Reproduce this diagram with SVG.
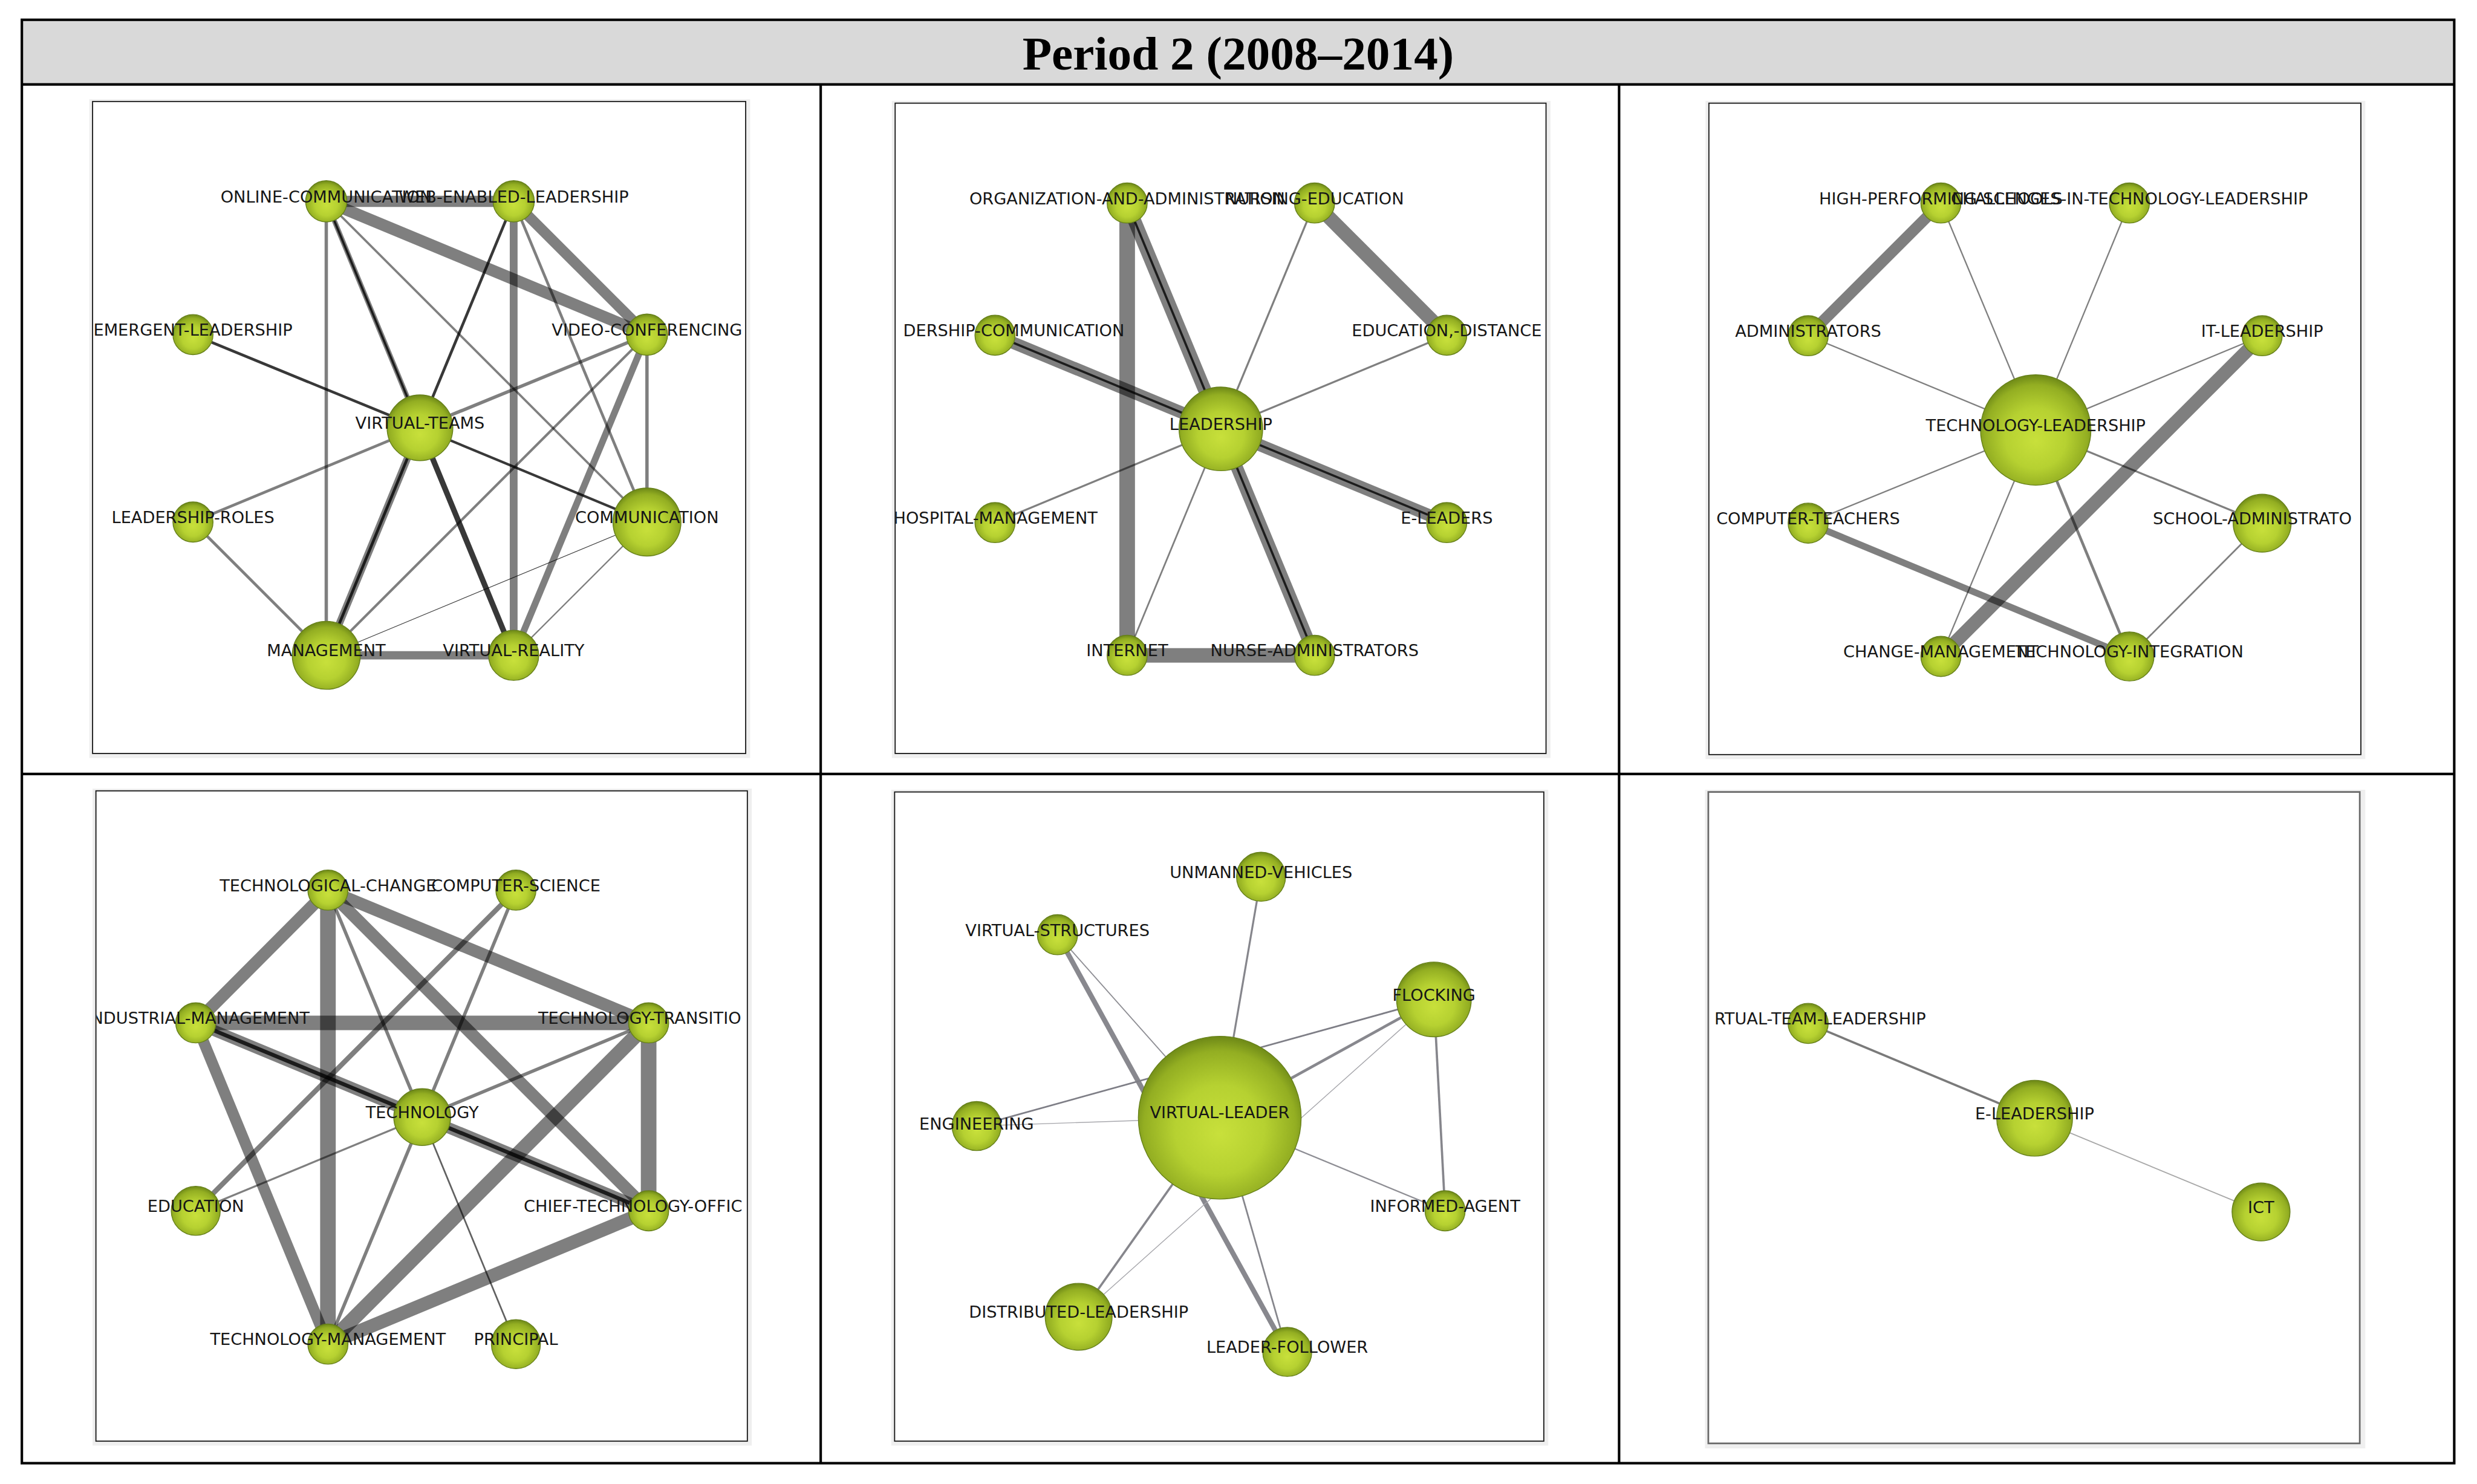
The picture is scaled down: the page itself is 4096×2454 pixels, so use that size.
<svg xmlns="http://www.w3.org/2000/svg" width="4096" height="2454" viewBox="0 0 4096 2454">
<defs>
<style>
.e{stroke:#000;stroke-opacity:.5;fill:none}
.d{stroke:#000;stroke-opacity:.78;fill:none}
.f{stroke:#000;stroke-opacity:.62;fill:none}
.n{fill:url(#ball);stroke:#66801a;stroke-width:1.5}
.t{font-family:"DejaVu Sans",Verdana,sans-serif;font-size:29.5px;fill:#161616;text-anchor:middle}
.ts{text-anchor:start}
.te{text-anchor:end}
.tb{stroke:#000;stroke-width:4.5;fill:none}
.shade{fill:#efefef}
.fr{fill:#fff;stroke:#1a1a1a;stroke-width:2}
</style>
<radialGradient id="ball" cx="0.5" cy="0.55" r="0.55" fx="0.5" fy="0.6">
<stop offset="0" stop-color="#c8e03b"/>
<stop offset="0.5" stop-color="#b6d131"/>
<stop offset="0.85" stop-color="#93ae22"/>
<stop offset="1" stop-color="#6d8817"/>
</radialGradient>
<clipPath id="c1"><rect x="167" y="183" width="1169" height="1167"/></clipPath>
<clipPath id="c2"><rect x="1606" y="186" width="1165" height="1164"/></clipPath>
<clipPath id="c3"><rect x="3065" y="186" width="1167" height="1166"/></clipPath>
<clipPath id="c4"><rect x="173" y="1419" width="1166" height="1164"/></clipPath>
<clipPath id="c5"><rect x="1605" y="1421" width="1162" height="1162"/></clipPath>
<clipPath id="c6"><rect x="3064" y="1421" width="1166" height="1166"/></clipPath>
</defs>
<rect x="0" y="0" width="4096" height="2454" fill="#fff"/>
<g transform="scale(0.92227)">
<g id="table">
<rect x="39" y="35.5" width="4361" height="116" fill="#d9d9d9"/>
<rect class="tb" x="39.2" y="35.5" width="4361.2" height="2588"/>
<line class="tb" x1="39" y1="151.4" x2="4400" y2="151.4"/>
<line class="tb" x1="39" y1="1387.7" x2="4400" y2="1387.7"/>
<line class="tb" x1="1471.5" y1="151.4" x2="1471.5" y2="2623.5"/>
<line class="tb" x1="2903" y1="151.4" x2="2903" y2="2623.5"/>
<text x="2220" y="125" font-family="'Liberation Serif','Times New Roman',serif" font-weight="bold" font-size="86" text-anchor="middle" fill="#000">Period 2 (2008–2014)</text>
</g>
<g id="frames">
<rect class="shade" x="160" y="178" width="1185" height="1181"/>
<rect class="fr" x="166" y="182" width="1171" height="1169"/>
<rect class="shade" x="1599" y="181" width="1181" height="1178"/>
<rect class="fr" x="1605" y="185" width="1167" height="1166"/>
<rect class="shade" x="3058" y="181" width="1183" height="1180"/>
<rect class="fr" x="3064" y="185" width="1169" height="1168"/>
<rect class="shade" x="166" y="1414" width="1182" height="1178"/>
<rect class="fr" x="172" y="1418" width="1168" height="1166"/>
<rect class="shade" x="1598" y="1416" width="1178" height="1176"/>
<rect class="fr" x="1604" y="1420" width="1164" height="1164"/>
<rect class="shade" x="3057" y="1416" width="1184" height="1181"/>
<rect x="3063" y="1420" width="1168" height="1168" fill="#fff" stroke="#6a6a6a" stroke-width="3"/>
</g>
<g id="connectors">
<g id="p1-edges">
<line class="e" x1="585" y1="361" x2="921" y2="361" stroke-width="20"/>
<line class="e" x1="585" y1="361" x2="1160" y2="600" stroke-width="21"/>
<line class="e" x1="921" y1="361" x2="1160" y2="600" stroke-width="19"/>
<line class="e" x1="585" y1="361" x2="585" y2="1175" stroke-width="6"/>
<line class="e" x1="585" y1="361" x2="753" y2="767" stroke-width="9"/>
<line class="d" x1="585" y1="361" x2="753" y2="767" stroke-width="4"/>
<line class="e" x1="585" y1="361" x2="1160" y2="936" stroke-width="4"/>
<line class="d" x1="921" y1="361" x2="753" y2="767" stroke-width="5"/>
<line class="e" x1="921" y1="361" x2="921" y2="1175" stroke-width="14"/>
<line class="e" x1="921" y1="361" x2="1160" y2="936" stroke-width="5"/>
<line class="d" x1="346" y1="600" x2="753" y2="767" stroke-width="5"/>
<line class="e" x1="1160" y1="600" x2="753" y2="767" stroke-width="6"/>
<line class="e" x1="1160" y1="600" x2="585" y2="1175" stroke-width="4.5"/>
<line class="e" x1="1160" y1="600" x2="921" y2="1175" stroke-width="12"/>
<line class="e" x1="1160" y1="600" x2="1160" y2="936" stroke-width="6"/>
<line class="d" x1="753" y1="767" x2="1160" y2="936" stroke-width="4.5"/>
<line class="e" x1="753" y1="767" x2="346" y2="936" stroke-width="5"/>
<line class="e" x1="753" y1="767" x2="585" y2="1175" stroke-width="13"/>
<line class="d" x1="753" y1="767" x2="585" y2="1175" stroke-width="5"/>
<line class="d" x1="753" y1="767" x2="921" y2="1175" stroke-width="10"/>
<line class="e" x1="346" y1="936" x2="585" y2="1175" stroke-width="5"/>
<line class="e" x1="585" y1="1175" x2="921" y2="1175" stroke-width="15"/>
<line class="d" x1="585" y1="1175" x2="1160" y2="936" stroke-width="1.2"/>
<line class="e" x1="921" y1="1175" x2="1160" y2="936" stroke-width="2.5"/>
</g>
<g id="p2-edges">
<line class="e" x1="2021" y1="364" x2="2189" y2="769" stroke-width="24"/>
<line class="d" x1="2021" y1="364" x2="2189" y2="769" stroke-width="4"/>
<line class="e" x1="2021" y1="364" x2="2021" y2="1175" stroke-width="28"/>
<line class="e" x1="2357" y1="364" x2="2594" y2="601" stroke-width="25"/>
<line class="e" x1="2357" y1="364" x2="2189" y2="769" stroke-width="3.5"/>
<line class="e" x1="1784" y1="601" x2="2189" y2="769" stroke-width="22"/>
<line class="d" x1="1784" y1="601" x2="2189" y2="769" stroke-width="4"/>
<line class="e" x1="2594" y1="601" x2="2189" y2="769" stroke-width="3.5"/>
<line class="e" x1="1784" y1="937" x2="2189" y2="769" stroke-width="3.5"/>
<line class="e" x1="2189" y1="769" x2="2594" y2="937" stroke-width="22"/>
<line class="d" x1="2189" y1="769" x2="2594" y2="937" stroke-width="4"/>
<line class="e" x1="2189" y1="769" x2="2357" y2="1175" stroke-width="22"/>
<line class="d" x1="2189" y1="769" x2="2357" y2="1175" stroke-width="4"/>
<line class="e" x1="2189" y1="769" x2="2021" y2="1175" stroke-width="3"/>
<line class="e" x1="2021" y1="1175" x2="2357" y2="1175" stroke-width="26"/>
</g>
<g id="p3-edges">
<line class="e" x1="3480" y1="364" x2="3242" y2="602" stroke-width="20"/>
<line class="e" x1="3480" y1="364" x2="3650" y2="771" stroke-width="2.5"/>
<line class="e" x1="3818" y1="364" x2="3650" y2="771" stroke-width="2.5"/>
<line class="e" x1="3242" y1="602" x2="3650" y2="771" stroke-width="2.5"/>
<line class="e" x1="4056" y1="602" x2="3650" y2="771" stroke-width="2.5"/>
<line class="e" x1="4056" y1="602" x2="3480" y2="1177" stroke-width="24"/>
<line class="e" x1="3242" y1="938" x2="3650" y2="771" stroke-width="2.5"/>
<line class="e" x1="3242" y1="938" x2="3818" y2="1177" stroke-width="12"/>
<line class="e" x1="3650" y1="771" x2="4056" y2="938" stroke-width="3.5"/>
<line class="e" x1="3650" y1="771" x2="3480" y2="1177" stroke-width="2.5"/>
<line class="e" x1="3650" y1="771" x2="3818" y2="1177" stroke-width="5"/>
<line class="e" x1="4056" y1="938" x2="3818" y2="1177" stroke-width="3"/>
</g>
<g id="p4-edges">
<line class="e" x1="588" y1="1596" x2="351" y2="1834" stroke-width="22"/>
<line class="e" x1="588" y1="1596" x2="588" y2="2410" stroke-width="28"/>
<line class="e" x1="588" y1="1596" x2="757" y2="2003" stroke-width="6"/>
<line class="e" x1="588" y1="1596" x2="1163" y2="1834" stroke-width="22"/>
<line class="e" x1="588" y1="1596" x2="1163" y2="2171" stroke-width="22"/>
<line class="e" x1="925" y1="1596" x2="351" y2="2171" stroke-width="9"/>
<line class="e" x1="925" y1="1596" x2="757" y2="2003" stroke-width="6"/>
<line class="e" x1="351" y1="1834" x2="1163" y2="1834" stroke-width="26"/>
<line class="e" x1="351" y1="1834" x2="1163" y2="2171" stroke-width="20"/>
<line class="d" x1="351" y1="1834" x2="1163" y2="2171" stroke-width="7"/>
<line class="e" x1="351" y1="1834" x2="588" y2="2410" stroke-width="20"/>
<line class="e" x1="1163" y1="1834" x2="757" y2="2003" stroke-width="6"/>
<line class="e" x1="1163" y1="1834" x2="588" y2="2410" stroke-width="26"/>
<line class="e" x1="1163" y1="1834" x2="1163" y2="2171" stroke-width="28"/>
<line class="e" x1="757" y1="2003" x2="351" y2="2171" stroke-width="3.5"/>
<line class="e" x1="757" y1="2003" x2="588" y2="2410" stroke-width="6"/>
<line class="f" x1="757" y1="2003" x2="925" y2="2410" stroke-width="3"/>
<line class="e" x1="1163" y1="2171" x2="588" y2="2410" stroke-width="24"/>
</g>
<g id="p5-edges" fill="none">
<line x1="1896" y1="1676" x2="2308" y2="2424" stroke="#88888e" stroke-width="9"/>
<line x1="1896" y1="1676" x2="2187" y2="2004" stroke="#8e8e94" stroke-width="2"/>
<line x1="2261" y1="1572" x2="2187" y2="2004" stroke="#86868c" stroke-width="3.5"/>
<line x1="2571" y1="1792" x2="1751" y2="2019" stroke="#7e7e86" stroke-width="3"/>
<line x1="2571" y1="1792" x2="2187" y2="2004" stroke="#88888e" stroke-width="5"/>
<line x1="2571" y1="1792" x2="1934" y2="2361" stroke="#a5a5aa" stroke-width="1.5"/>
<line x1="2571" y1="1792" x2="2591" y2="2171" stroke="#86868c" stroke-width="4"/>
<line x1="1751" y1="2019" x2="2187" y2="2004" stroke="#a8a8ad" stroke-width="1.5"/>
<line x1="2187" y1="2004" x2="2591" y2="2171" stroke="#8e8e94" stroke-width="2.5"/>
<line x1="2187" y1="2004" x2="1934" y2="2361" stroke="#86868c" stroke-width="4"/>
<line x1="2187" y1="2004" x2="2308" y2="2424" stroke="#86868c" stroke-width="3"/>
</g>
<g id="p6-edges" fill="none">
<line x1="3242" y1="1835" x2="3648" y2="2005" stroke="#7a7a7a" stroke-width="4"/>
<line x1="3648" y1="2005" x2="4054" y2="2173" stroke="#a8a8a8" stroke-width="2"/>
</g>
</g>
<g id="p1-nodes" clip-path="url(#c1)">
<g id="n-online-communication"><circle class="n" cx="585" cy="361" r="37"/><text class="t" x="585" y="363">ONLINE-COMMUNICATION</text></g>
<g id="n-web-enabled-leadership"><circle class="n" cx="921" cy="361" r="37"/><text class="t" x="921" y="363">WEB-ENABLED-LEADERSHIP</text></g>
<g id="n-emergent-leadership"><circle class="n" cx="346" cy="600" r="36"/><text class="t" x="346" y="602">EMERGENT-LEADERSHIP</text></g>
<g id="n-video-conferencing"><circle class="n" cx="1160" cy="600" r="37"/><text class="t" x="1160" y="602">VIDEO-CONFERENCING</text></g>
<g id="n-virtual-teams"><circle class="n" cx="753" cy="767" r="59"/><text class="t" x="753" y="769">VIRTUAL-TEAMS</text></g>
<g id="n-leadership-roles"><circle class="n" cx="346" cy="936" r="36"/><text class="t" x="346" y="938">LEADERSHIP-ROLES</text></g>
<g id="n-communication"><circle class="n" cx="1160" cy="936" r="61"/><text class="t" x="1160" y="938">COMMUNICATION</text></g>
<g id="n-management"><circle class="n" cx="585" cy="1175" r="61"/><text class="t" x="585" y="1177">MANAGEMENT</text></g>
<g id="n-virtual-reality"><circle class="n" cx="921" cy="1175" r="45"/><text class="t" x="921" y="1177">VIRTUAL-REALITY</text></g>
</g>
<g id="p2-nodes" clip-path="url(#c2)">
<g id="n-organization-and-administration"><circle class="n" cx="2021" cy="364" r="36"/><text class="t" x="2021" y="366">ORGANIZATION-AND-ADMINISTRATION</text></g>
<g id="n-nursing-education"><circle class="n" cx="2357" cy="364" r="36"/><text class="t" x="2357" y="366">NURSING-EDUCATION</text></g>
<g id="n-leadership-communication"><circle class="n" cx="1784" cy="601" r="36"/><text class="t te" x="2016" y="603">DERSHIP-COMMUNICATION</text></g>
<g id="n-education-distance"><circle class="n" cx="2594" cy="601" r="36"/><text class="t" x="2594" y="603">EDUCATION,-DISTANCE</text></g>
<g id="n-leadership"><circle class="n" cx="2189" cy="769" r="75"/><text class="t" x="2189" y="771">LEADERSHIP</text></g>
<g id="n-hospital-management"><circle class="n" cx="1784" cy="937" r="36"/><text class="t" x="1785" y="939">HOSPITAL-MANAGEMENT</text></g>
<g id="n-e-leaders"><circle class="n" cx="2594" cy="937" r="36"/><text class="t" x="2594" y="939">E-LEADERS</text></g>
<g id="n-internet"><circle class="n" cx="2021" cy="1175" r="36"/><text class="t" x="2021" y="1177">INTERNET</text></g>
<g id="n-nurse-administrators"><circle class="n" cx="2357" cy="1175" r="36"/><text class="t" x="2357" y="1177">NURSE-ADMINISTRATORS</text></g>
</g>
<g id="p3-nodes" clip-path="url(#c3)">
<g id="n-high-performing-schools"><circle class="n" cx="3480" cy="364" r="36"/><text class="t" x="3480" y="366">HIGH-PERFORMING-SCHOOLS</text></g>
<g id="n-challenges-in-technology-leadership"><circle class="n" cx="3818" cy="364" r="36"/><text class="t" x="3818" y="366">CHALLENGES-IN-TECHNOLOGY-LEADERSHIP</text></g>
<g id="n-administrators"><circle class="n" cx="3242" cy="602" r="36"/><text class="t" x="3242" y="604">ADMINISTRATORS</text></g>
<g id="n-it-leadership"><circle class="n" cx="4056" cy="602" r="36"/><text class="t" x="4056" y="604">IT-LEADERSHIP</text></g>
<g id="n-technology-leadership"><circle class="n" cx="3650" cy="771" r="99"/><text class="t" x="3650" y="773">TECHNOLOGY-LEADERSHIP</text></g>
<g id="n-computer-teachers"><circle class="n" cx="3242" cy="938" r="36"/><text class="t" x="3242" y="940">COMPUTER-TEACHERS</text></g>
<g id="n-school-administrators"><circle class="n" cx="4056" cy="938" r="52"/><text class="t ts" x="3860" y="940">SCHOOL-ADMINISTRATO</text></g>
<g id="n-change-management"><circle class="n" cx="3480" cy="1177" r="36"/><text class="t" x="3480" y="1179">CHANGE-MANAGEMENT</text></g>
<g id="n-technology-integration"><circle class="n" cx="3818" cy="1177" r="44"/><text class="t" x="3818" y="1179">TECHNOLOGY-INTEGRATION</text></g>
</g>
<g id="p4-nodes" clip-path="url(#c4)">
<g id="n-technological-change"><circle class="n" cx="588" cy="1596" r="36"/><text class="t" x="588" y="1598">TECHNOLOGICAL-CHANGE</text></g>
<g id="n-computer-science"><circle class="n" cx="925" cy="1596" r="36"/><text class="t" x="925" y="1598">COMPUTER-SCIENCE</text></g>
<g id="n-industrial-management"><circle class="n" cx="351" cy="1834" r="36"/><text class="t te" x="555" y="1836">NDUSTRIAL-MANAGEMENT</text></g>
<g id="n-technology-transition"><circle class="n" cx="1163" cy="1834" r="36"/><text class="t ts" x="965" y="1836">TECHNOLOGY-TRANSITIO</text></g>
<g id="n-technology"><circle class="n" cx="757" cy="2003" r="51"/><text class="t" x="757" y="2005">TECHNOLOGY</text></g>
<g id="n-education"><circle class="n" cx="351" cy="2171" r="44"/><text class="t" x="351" y="2173">EDUCATION</text></g>
<g id="n-chief-technology-officer"><circle class="n" cx="1163" cy="2171" r="36"/><text class="t ts" x="939" y="2173">CHIEF-TECHNOLOGY-OFFIC</text></g>
<g id="n-technology-management"><circle class="n" cx="588" cy="2410" r="36"/><text class="t" x="588" y="2412">TECHNOLOGY-MANAGEMENT</text></g>
<g id="n-principal"><circle class="n" cx="925" cy="2410" r="44"/><text class="t" x="925" y="2412">PRINCIPAL</text></g>
</g>
<g id="p5-nodes" clip-path="url(#c5)">
<g id="n-unmanned-vehicles"><circle class="n" cx="2261" cy="1572" r="44"/><text class="t" x="2261" y="1574">UNMANNED-VEHICLES</text></g>
<g id="n-virtual-structures"><circle class="n" cx="1896" cy="1676" r="36"/><text class="t" x="1896" y="1678">VIRTUAL-STRUCTURES</text></g>
<g id="n-flocking"><circle class="n" cx="2571" cy="1792" r="67"/><text class="t" x="2571" y="1794">FLOCKING</text></g>
<g id="n-engineering"><circle class="n" cx="1751" cy="2019" r="44"/><text class="t" x="1751" y="2025">ENGINEERING</text></g>
<g id="n-virtual-leader"><circle class="n" cx="2187" cy="2004" r="146"/><text class="t" x="2187" y="2005">VIRTUAL-LEADER</text></g>
<g id="n-informed-agent"><circle class="n" cx="2591" cy="2171" r="36"/><text class="t" x="2591" y="2173">INFORMED-AGENT</text></g>
<g id="n-distributed-leadership"><circle class="n" cx="1934" cy="2361" r="60"/><text class="t" x="1934" y="2363">DISTRIBUTED-LEADERSHIP</text></g>
<g id="n-leader-follower"><circle class="n" cx="2308" cy="2424" r="44"/><text class="t" x="2308" y="2426">LEADER-FOLLOWER</text></g>
</g>
<g id="p6-nodes" clip-path="url(#c6)">
<g id="n-virtual-team-leadership"><circle class="n" cx="3242" cy="1835" r="36"/><text class="t te" x="3453" y="1837">RTUAL-TEAM-LEADERSHIP</text></g>
<g id="n-e-leadership"><circle class="n" cx="3648" cy="2005" r="68"/><text class="t" x="3648" y="2007">E-LEADERSHIP</text></g>
<g id="n-ict"><circle class="n" cx="4054" cy="2173" r="52"/><text class="t" x="4054" y="2175">ICT</text></g>
</g>
</g>
</svg>
